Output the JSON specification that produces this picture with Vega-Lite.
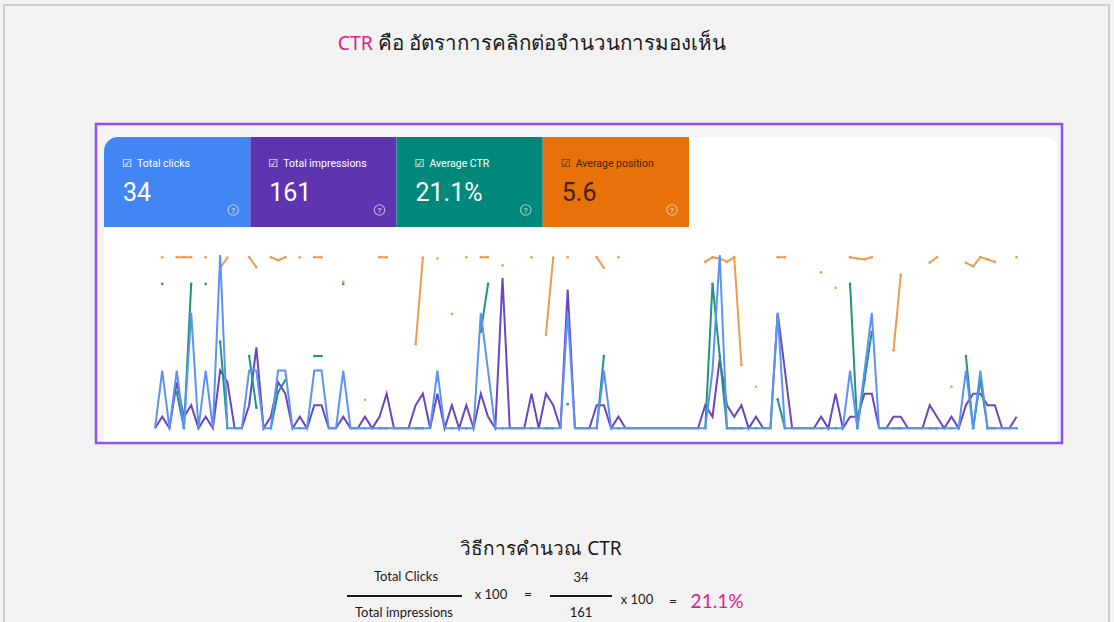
{
  "$schema": "https://vega.github.io/schema/vega-lite/v6.json",
  "width": 1114,
  "height": 622,
  "padding": 0,
  "autosize": {"type": "none"},
  "background": "#f2f2f2",
  "config": {"view": {"stroke": null}},
  "datasets": {
    "gsc": [
      {"day": 1, "clicks": 0, "impressions": 0, "ctr": null, "position": null},
      {"day": 2, "clicks": 1, "impressions": 1, "ctr": 100, "position": 1},
      {"day": 3, "clicks": 0, "impressions": 0, "ctr": null, "position": null},
      {"day": 4, "clicks": 1, "impressions": 4, "ctr": 25, "position": 1},
      {"day": 5, "clicks": 0, "impressions": 1, "ctr": 0, "position": 1},
      {"day": 6, "clicks": 2, "impressions": 2, "ctr": 100, "position": 1},
      {"day": 7, "clicks": 0, "impressions": 0, "ctr": null, "position": null},
      {"day": 8, "clicks": 1, "impressions": 1, "ctr": 100, "position": 1},
      {"day": 9, "clicks": 0, "impressions": 0, "ctr": null, "position": null},
      {"day": 10, "clicks": 3, "impressions": 5, "ctr": 60, "position": 6.0},
      {"day": 11, "clicks": 0, "impressions": 4, "ctr": 0, "position": 1.2},
      {"day": 12, "clicks": 0, "impressions": 0, "ctr": null, "position": null},
      {"day": 13, "clicks": 0, "impressions": 0, "ctr": null, "position": null},
      {"day": 14, "clicks": 1, "impressions": 2, "ctr": 50, "position": 1},
      {"day": 15, "clicks": 1, "impressions": 7, "ctr": 14.3, "position": 5.6},
      {"day": 16, "clicks": 0, "impressions": 0, "ctr": null, "position": null},
      {"day": 17, "clicks": 0, "impressions": 1, "ctr": 0, "position": 1},
      {"day": 18, "clicks": 1, "impressions": 4, "ctr": 25, "position": 2.4},
      {"day": 19, "clicks": 1, "impressions": 3, "ctr": 33.3, "position": 1},
      {"day": 20, "clicks": 0, "impressions": 0, "ctr": null, "position": null},
      {"day": 21, "clicks": 0, "impressions": 1, "ctr": 0, "position": 1},
      {"day": 22, "clicks": 0, "impressions": 0, "ctr": null, "position": null},
      {"day": 23, "clicks": 1, "impressions": 2, "ctr": 50, "position": 1},
      {"day": 24, "clicks": 1, "impressions": 2, "ctr": 50, "position": 1},
      {"day": 25, "clicks": 0, "impressions": 0, "ctr": null, "position": null},
      {"day": 26, "clicks": 0, "impressions": 0, "ctr": null, "position": null},
      {"day": 27, "clicks": 1, "impressions": 1, "ctr": 100, "position": 12.4},
      {"day": 28, "clicks": 0, "impressions": 0, "ctr": null, "position": null},
      {"day": 29, "clicks": 0, "impressions": 0, "ctr": null, "position": null},
      {"day": 30, "clicks": 0, "impressions": 1, "ctr": 0, "position": 66.8},
      {"day": 31, "clicks": 0, "impressions": 0, "ctr": null, "position": null},
      {"day": 32, "clicks": 0, "impressions": 1, "ctr": 0, "position": 1},
      {"day": 33, "clicks": 0, "impressions": 3, "ctr": 0, "position": 1},
      {"day": 34, "clicks": 0, "impressions": 0, "ctr": null, "position": null},
      {"day": 35, "clicks": 0, "impressions": 0, "ctr": null, "position": null},
      {"day": 36, "clicks": 0, "impressions": 0, "ctr": null, "position": null},
      {"day": 37, "clicks": 0, "impressions": 2, "ctr": 0, "position": 41.2},
      {"day": 38, "clicks": 0, "impressions": 3, "ctr": 0, "position": 1.2},
      {"day": 39, "clicks": 0, "impressions": 0, "ctr": null, "position": null},
      {"day": 40, "clicks": 1, "impressions": 3, "ctr": 33.3, "position": 1.6},
      {"day": 41, "clicks": 0, "impressions": 0, "ctr": null, "position": null},
      {"day": 42, "clicks": 0, "impressions": 2, "ctr": 0, "position": 27.2},
      {"day": 43, "clicks": 0, "impressions": 0, "ctr": null, "position": null},
      {"day": 44, "clicks": 0, "impressions": 2, "ctr": 0, "position": 1},
      {"day": 45, "clicks": 0, "impressions": 0, "ctr": null, "position": null},
      {"day": 46, "clicks": 2, "impressions": 3, "ctr": 66.7, "position": 1},
      {"day": 47, "clicks": 1, "impressions": 1, "ctr": 100, "position": 1},
      {"day": 48, "clicks": 0, "impressions": 0, "ctr": null, "position": null},
      {"day": 49, "clicks": 0, "impressions": 13, "ctr": 0, "position": 4.8},
      {"day": 50, "clicks": 0, "impressions": 0, "ctr": null, "position": null},
      {"day": 51, "clicks": 0, "impressions": 0, "ctr": null, "position": null},
      {"day": 52, "clicks": 0, "impressions": 0, "ctr": null, "position": null},
      {"day": 53, "clicks": 0, "impressions": 3, "ctr": 0, "position": 1},
      {"day": 54, "clicks": 0, "impressions": 0, "ctr": null, "position": null},
      {"day": 55, "clicks": 0, "impressions": 3, "ctr": 0, "position": 36.8},
      {"day": 56, "clicks": 0, "impressions": 2, "ctr": 0, "position": 1.2},
      {"day": 57, "clicks": 0, "impressions": 0, "ctr": null, "position": null},
      {"day": 58, "clicks": 2, "impressions": 12, "ctr": 16.7, "position": 1},
      {"day": 59, "clicks": 0, "impressions": 0, "ctr": null, "position": null},
      {"day": 60, "clicks": 0, "impressions": 0, "ctr": null, "position": null},
      {"day": 61, "clicks": 0, "impressions": 0, "ctr": null, "position": null},
      {"day": 62, "clicks": 0, "impressions": 2, "ctr": 0, "position": 1},
      {"day": 63, "clicks": 1, "impressions": 2, "ctr": 50, "position": 6.0},
      {"day": 64, "clicks": 0, "impressions": 0, "ctr": null, "position": null},
      {"day": 65, "clicks": 0, "impressions": 1, "ctr": 0, "position": 1},
      {"day": 66, "clicks": 0, "impressions": 0, "ctr": null, "position": null},
      {"day": 67, "clicks": 0, "impressions": 0, "ctr": null, "position": null},
      {"day": 68, "clicks": 0, "impressions": 0, "ctr": null, "position": null},
      {"day": 69, "clicks": 0, "impressions": 0, "ctr": null, "position": null},
      {"day": 70, "clicks": 0, "impressions": 0, "ctr": null, "position": null},
      {"day": 71, "clicks": 0, "impressions": 0, "ctr": null, "position": null},
      {"day": 72, "clicks": 0, "impressions": 0, "ctr": null, "position": null},
      {"day": 73, "clicks": 0, "impressions": 0, "ctr": null, "position": null},
      {"day": 74, "clicks": 0, "impressions": 0, "ctr": null, "position": null},
      {"day": 75, "clicks": 0, "impressions": 0, "ctr": null, "position": null},
      {"day": 76, "clicks": 0, "impressions": 0, "ctr": null, "position": null},
      {"day": 77, "clicks": 0, "impressions": 2, "ctr": 0, "position": 3.2},
      {"day": 78, "clicks": 1, "impressions": 1, "ctr": 100, "position": 1},
      {"day": 79, "clicks": 3, "impressions": 6, "ctr": 50, "position": 1.6},
      {"day": 80, "clicks": 0, "impressions": 2, "ctr": 0, "position": 3.2},
      {"day": 81, "clicks": 0, "impressions": 1, "ctr": 0, "position": 1},
      {"day": 82, "clicks": 0, "impressions": 2, "ctr": 0, "position": 50.8},
      {"day": 83, "clicks": 0, "impressions": 0, "ctr": null, "position": null},
      {"day": 84, "clicks": 0, "impressions": 1, "ctr": 0, "position": 60.8},
      {"day": 85, "clicks": 0, "impressions": 0, "ctr": null, "position": null},
      {"day": 86, "clicks": 0, "impressions": 0, "ctr": null, "position": null},
      {"day": 87, "clicks": 2, "impressions": 10, "ctr": 20, "position": 1},
      {"day": 88, "clicks": 0, "impressions": 5, "ctr": 0, "position": 1},
      {"day": 89, "clicks": 0, "impressions": 0, "ctr": null, "position": null},
      {"day": 90, "clicks": 0, "impressions": 0, "ctr": null, "position": null},
      {"day": 91, "clicks": 0, "impressions": 0, "ctr": null, "position": null},
      {"day": 92, "clicks": 0, "impressions": 0, "ctr": null, "position": null},
      {"day": 93, "clicks": 0, "impressions": 1, "ctr": 0, "position": 8.0},
      {"day": 94, "clicks": 0, "impressions": 0, "ctr": null, "position": null},
      {"day": 95, "clicks": 0, "impressions": 3, "ctr": 0, "position": 15.2},
      {"day": 96, "clicks": 0, "impressions": 0, "ctr": null, "position": null},
      {"day": 97, "clicks": 1, "impressions": 1, "ctr": 100, "position": 1},
      {"day": 98, "clicks": 0, "impressions": 1, "ctr": 0, "position": 1.6},
      {"day": 99, "clicks": 1, "impressions": 3, "ctr": 33.3, "position": 2.0},
      {"day": 100, "clicks": 2, "impressions": 3, "ctr": 66.7, "position": 1},
      {"day": 101, "clicks": 0, "impressions": 0, "ctr": null, "position": null},
      {"day": 102, "clicks": 0, "impressions": 0, "ctr": null, "position": null},
      {"day": 103, "clicks": 0, "impressions": 1, "ctr": 0, "position": 44},
      {"day": 104, "clicks": 0, "impressions": 1, "ctr": 0, "position": 9.2},
      {"day": 105, "clicks": 0, "impressions": 0, "ctr": null, "position": null},
      {"day": 106, "clicks": 0, "impressions": 0, "ctr": null, "position": null},
      {"day": 107, "clicks": 0, "impressions": 0, "ctr": null, "position": null},
      {"day": 108, "clicks": 0, "impressions": 2, "ctr": 0, "position": 3.6},
      {"day": 109, "clicks": 0, "impressions": 1, "ctr": 0, "position": 1},
      {"day": 110, "clicks": 0, "impressions": 0, "ctr": null, "position": null},
      {"day": 111, "clicks": 0, "impressions": 1, "ctr": 0, "position": 60.8},
      {"day": 112, "clicks": 0, "impressions": 0, "ctr": null, "position": null},
      {"day": 113, "clicks": 1, "impressions": 2, "ctr": 50, "position": 3.6},
      {"day": 114, "clicks": 0, "impressions": 3, "ctr": 0, "position": 5.2},
      {"day": 115, "clicks": 1, "impressions": 3, "ctr": 33.3, "position": 1},
      {"day": 116, "clicks": 0, "impressions": 2, "ctr": 0, "position": 2},
      {"day": 117, "clicks": 0, "impressions": 2, "ctr": 0, "position": 3.2},
      {"day": 118, "clicks": 0, "impressions": 0, "ctr": null, "position": null},
      {"day": 119, "clicks": 0, "impressions": 0, "ctr": null, "position": null},
      {"day": 120, "clicks": 0, "impressions": 1, "ctr": 0, "position": 1}
    ],
    "tiles": [
      {"metric": "Total clicks", "value": "34"},
      {"metric": "Total impressions", "value": "161"},
      {"metric": "Average CTR", "value": "21.1%"},
      {"metric": "Average position", "value": "5.6"}
    ]
  },
  "layer": [
    {
      "data": {"values": [{"element": "page frame"}]},
      "mark": {"type": "rect", "fill": "transparent", "stroke": "#cdcdcd", "strokeWidth": 2},
      "encoding": {
        "x": {"datum": 4, "type": "quantitative", "scale": {"domain": [0, 1114], "range": [0, 1114], "nice": false, "zero": false}, "axis": null},
        "x2": {"datum": 1109},
        "y": {"datum": 5, "type": "quantitative", "scale": {"domain": [0, 622], "range": [0, 622], "nice": false, "zero": false}, "axis": null},
        "y2": {"datum": 680}
      }
    },
    {
      "data": {"values": [{"element": "screenshot frame"}]},
      "mark": {"type": "rect", "fill": "#f4f4f7", "stroke": "#8f52f2", "strokeWidth": 2.5},
      "encoding": {
        "x": {"datum": 96, "type": "quantitative", "scale": {"domain": [0, 1114], "range": [0, 1114], "nice": false, "zero": false}, "axis": null},
        "x2": {"datum": 1062},
        "y": {"datum": 124, "type": "quantitative", "scale": {"domain": [0, 622], "range": [0, 622], "nice": false, "zero": false}, "axis": null},
        "y2": {"datum": 443}
      }
    },
    {
      "data": {"values": [{"element": "report card"}]},
      "mark": {"type": "rect", "fill": "#ffffff", "cornerRadiusTopLeft": 14, "cornerRadiusTopRight": 10},
      "encoding": {
        "x": {"datum": 104, "type": "quantitative", "scale": {"domain": [0, 1114], "range": [0, 1114], "nice": false, "zero": false}, "axis": null},
        "x2": {"datum": 1057},
        "y": {"datum": 137, "type": "quantitative", "scale": {"domain": [0, 622], "range": [0, 622], "nice": false, "zero": false}, "axis": null},
        "y2": {"datum": 441.5}
      }
    },
    {
      "data": {"name": "tiles"},
      "encoding": {
        "x": {"field": "metric", "type": "nominal", "sort": null, "scale": {"domain": ["Total clicks", "Total impressions", "Average CTR", "Average position"], "range": [104, 689], "paddingInner": 0, "paddingOuter": 0}, "axis": null}
      },
      "layer": [
        {
          "transform": [{"filter": "datum.metric !== 'Total clicks'"}],
          "mark": {"type": "rect"},
          "encoding": {
            "y": {"datum": 137, "type": "quantitative", "scale": {"domain": [0, 622], "range": [0, 622], "nice": false, "zero": false}, "axis": null},
            "y2": {"datum": 227},
            "fill": {"field": "metric", "type": "nominal", "scale": {"domain": ["Total clicks", "Total impressions", "Average CTR", "Average position"], "range": ["#4285f4", "#5e35b1", "#00897b", "#e8710a"]}, "legend": null}
          }
        },
        {
          "transform": [{"filter": "datum.metric === 'Total clicks'"}],
          "mark": {"type": "rect", "cornerRadiusTopLeft": 14},
          "encoding": {
            "y": {"datum": 137, "type": "quantitative", "scale": {"domain": [0, 622], "range": [0, 622], "nice": false, "zero": false}, "axis": null},
            "y2": {"datum": 227},
            "fill": {"field": "metric", "type": "nominal", "scale": {"domain": ["Total clicks", "Total impressions", "Average CTR", "Average position"], "range": ["#4285f4", "#5e35b1", "#00897b", "#e8710a"]}, "legend": null}
          }
        },
        {
          "mark": {"type": "text", "text": "☑", "font": "DejaVu Sans", "fontSize": 11, "align": "center", "baseline": "alphabetic", "dx": 23},
          "encoding": {
            "x": {"field": "metric", "type": "nominal", "bandPosition": 0},
            "y": {"datum": 167, "type": "quantitative", "scale": {"domain": [0, 622], "range": [0, 622], "nice": false, "zero": false}, "axis": null},
            "color": {"field": "metric", "type": "nominal", "scale": {"domain": ["Total clicks", "Total impressions", "Average CTR", "Average position"], "range": ["#ffffff", "#ffffff", "#ffffff", "#3d2608"]}, "legend": null}
          }
        },
        {
          "mark": {"type": "text", "font": "Roboto", "fontSize": 10.5, "align": "left", "baseline": "alphabetic", "dx": 33},
          "encoding": {
            "x": {"field": "metric", "type": "nominal", "bandPosition": 0},
            "y": {"datum": 166.5, "type": "quantitative", "scale": {"domain": [0, 622], "range": [0, 622], "nice": false, "zero": false}, "axis": null},
            "text": {"field": "metric"},
            "color": {"field": "metric", "type": "nominal", "scale": {"domain": ["Total clicks", "Total impressions", "Average CTR", "Average position"], "range": ["#ffffff", "#ffffff", "#ffffff", "#3d2608"]}, "legend": null}
          }
        },
        {
          "mark": {"type": "text", "font": "Roboto", "fontSize": 25, "align": "left", "baseline": "alphabetic", "dx": 19},
          "encoding": {
            "x": {"field": "metric", "type": "nominal", "bandPosition": 0},
            "y": {"datum": 201, "type": "quantitative", "scale": {"domain": [0, 622], "range": [0, 622], "nice": false, "zero": false}, "axis": null},
            "text": {"field": "value"},
            "color": {"field": "metric", "type": "nominal", "scale": {"domain": ["Total clicks", "Total impressions", "Average CTR", "Average position"], "range": ["#ffffff", "#ffffff", "#ffffff", "#3d2608"]}, "legend": null}
          }
        },
        {
          "mark": {"type": "point", "shape": "circle", "filled": false, "size": 110, "strokeWidth": 1.1, "opacity": 0.6, "xOffset": -17},
          "encoding": {
            "x": {"field": "metric", "type": "nominal", "bandPosition": 1},
            "y": {"datum": 210, "type": "quantitative", "scale": {"domain": [0, 622], "range": [0, 622], "nice": false, "zero": false}, "axis": null},
            "color": {"field": "metric", "type": "nominal", "scale": {"domain": ["Total clicks", "Total impressions", "Average CTR", "Average position"], "range": ["#ffffff", "#ffffff", "#ffffff", "#ffffff"]}, "legend": null}
          }
        },
        {
          "mark": {"type": "text", "text": "?", "font": "Roboto", "fontSize": 8, "fontWeight": "bold", "align": "center", "baseline": "middle", "dx": -17, "opacity": 0.6},
          "encoding": {
            "x": {"field": "metric", "type": "nominal", "bandPosition": 1},
            "y": {"datum": 210.5, "type": "quantitative", "scale": {"domain": [0, 622], "range": [0, 622], "nice": false, "zero": false}, "axis": null},
            "color": {"field": "metric", "type": "nominal", "scale": {"domain": ["Total clicks", "Total impressions", "Average CTR", "Average position"], "range": ["#ffffff", "#ffffff", "#ffffff", "#ffffff"]}, "legend": null}
          }
        }
      ],
      "resolve": {"scale": {"color": "independent"}}
    },
    {
      "data": {"name": "gsc"},
      "encoding": {
        "x": {"field": "day", "type": "quantitative", "scale": {"domain": [1, 120], "range": [155, 1016.6], "nice": false, "zero": false}, "axis": null}
      },
      "layer": [
        {
          "mark": {"type": "line", "color": "#6a46c2", "strokeWidth": 2, "invalid": "break-paths-show-domains"},
          "encoding": {"y": {"field": "impressions", "type": "quantitative", "scale": {"domain": [0, 15], "range": [428.3, 255], "nice": false}, "axis": null}}
        },
        {
          "mark": {"type": "line", "color": "#1f9580", "strokeWidth": 2, "invalid": "break-paths-show-domains", "point": {"filled": true, "size": 7, "color": "#1f9580"}},
          "encoding": {"y": {"field": "ctr", "type": "quantitative", "scale": {"domain": [0, 120], "range": [428.3, 255], "nice": false}, "axis": null}}
        },
        {
          "mark": {"type": "line", "color": "#ef9a4c", "strokeWidth": 2, "invalid": "break-paths-show-domains", "point": {"filled": true, "size": 7, "color": "#ef9a4c"}},
          "encoding": {"y": {"field": "position", "type": "quantitative", "scale": {"domain": [0, 80], "range": [255, 428.3], "nice": false}, "axis": null}}
        },
        {
          "mark": {"type": "line", "color": "#5b93f5", "strokeWidth": 2, "invalid": "break-paths-show-domains"},
          "encoding": {"y": {"field": "clicks", "type": "quantitative", "scale": {"domain": [0, 3], "range": [428.3, 255], "nice": false}, "axis": null}}
        }
      ],
      "resolve": {"scale": {"y": "independent"}}
    },
    {
      "data": {"values": [{"text": "CTR"}]},
      "mark": {"type": "text", "font": "Noto Sans", "fontSize": 19.5, "align": "right", "baseline": "alphabetic", "color": "#e0218a"},
      "encoding": {
        "text": {"field": "text"},
        "x": {"datum": 373, "type": "quantitative", "scale": {"domain": [0, 1114], "range": [0, 1114], "nice": false, "zero": false}, "axis": null},
        "y": {"datum": 50, "type": "quantitative", "scale": {"domain": [0, 622], "range": [0, 622], "nice": false, "zero": false}, "axis": null}
      }
    },
    {
      "data": {"values": [{"text": "คือ อัตราการคลิกต่อจำนวนการมองเห็น"}]},
      "mark": {"type": "text", "font": "Noto Sans", "fontSize": 20.5, "align": "left", "baseline": "alphabetic", "color": "#1a1a1a"},
      "encoding": {
        "text": {"field": "text"},
        "x": {"datum": 378, "type": "quantitative", "scale": {"domain": [0, 1114], "range": [0, 1114], "nice": false, "zero": false}, "axis": null},
        "y": {"datum": 50, "type": "quantitative", "scale": {"domain": [0, 622], "range": [0, 622], "nice": false, "zero": false}, "axis": null}
      }
    },
    {
      "data": {"values": [{"text": "วิธีการคำนวณ CTR"}]},
      "mark": {"type": "text", "font": "Noto Sans", "fontSize": 19, "align": "center", "baseline": "alphabetic", "color": "#1a1a1a"},
      "encoding": {
        "text": {"field": "text"},
        "x": {"datum": 541, "type": "quantitative", "scale": {"domain": [0, 1114], "range": [0, 1114], "nice": false, "zero": false}, "axis": null},
        "y": {"datum": 555, "type": "quantitative", "scale": {"domain": [0, 622], "range": [0, 622], "nice": false, "zero": false}, "axis": null}
      }
    },
    {
      "data": {"values": [{"text": "Total Clicks"}]},
      "mark": {"type": "text", "font": "Lato", "fontSize": 13, "align": "center", "baseline": "alphabetic", "color": "#1a1a1a"},
      "encoding": {
        "text": {"field": "text"},
        "x": {"datum": 406, "type": "quantitative", "scale": {"domain": [0, 1114], "range": [0, 1114], "nice": false, "zero": false}, "axis": null},
        "y": {"datum": 581, "type": "quantitative", "scale": {"domain": [0, 622], "range": [0, 622], "nice": false, "zero": false}, "axis": null}
      }
    },
    {
      "data": {"values": [{"text": "Total impressions"}]},
      "mark": {"type": "text", "font": "Lato", "fontSize": 13, "align": "center", "baseline": "alphabetic", "color": "#1a1a1a"},
      "encoding": {
        "text": {"field": "text"},
        "x": {"datum": 404, "type": "quantitative", "scale": {"domain": [0, 1114], "range": [0, 1114], "nice": false, "zero": false}, "axis": null},
        "y": {"datum": 617, "type": "quantitative", "scale": {"domain": [0, 622], "range": [0, 622], "nice": false, "zero": false}, "axis": null}
      }
    },
    {
      "data": {"values": [{"text": "34"}]},
      "mark": {"type": "text", "font": "Lato", "fontSize": 13, "align": "center", "baseline": "alphabetic", "color": "#1a1a1a"},
      "encoding": {
        "text": {"field": "text"},
        "x": {"datum": 581, "type": "quantitative", "scale": {"domain": [0, 1114], "range": [0, 1114], "nice": false, "zero": false}, "axis": null},
        "y": {"datum": 582, "type": "quantitative", "scale": {"domain": [0, 622], "range": [0, 622], "nice": false, "zero": false}, "axis": null}
      }
    },
    {
      "data": {"values": [{"text": "161"}]},
      "mark": {"type": "text", "font": "Lato", "fontSize": 13, "align": "center", "baseline": "alphabetic", "color": "#1a1a1a"},
      "encoding": {
        "text": {"field": "text"},
        "x": {"datum": 581, "type": "quantitative", "scale": {"domain": [0, 1114], "range": [0, 1114], "nice": false, "zero": false}, "axis": null},
        "y": {"datum": 617, "type": "quantitative", "scale": {"domain": [0, 622], "range": [0, 622], "nice": false, "zero": false}, "axis": null}
      }
    },
    {
      "data": {"values": [{"text": "x 100"}]},
      "mark": {"type": "text", "font": "Lato", "fontSize": 13, "align": "center", "baseline": "alphabetic", "color": "#1a1a1a"},
      "encoding": {
        "text": {"field": "text"},
        "x": {"datum": 491, "type": "quantitative", "scale": {"domain": [0, 1114], "range": [0, 1114], "nice": false, "zero": false}, "axis": null},
        "y": {"datum": 599, "type": "quantitative", "scale": {"domain": [0, 622], "range": [0, 622], "nice": false, "zero": false}, "axis": null}
      }
    },
    {
      "data": {"values": [{"text": "="}]},
      "mark": {"type": "text", "font": "Lato", "fontSize": 14, "align": "center", "baseline": "alphabetic", "color": "#1a1a1a"},
      "encoding": {
        "text": {"field": "text"},
        "x": {"datum": 528, "type": "quantitative", "scale": {"domain": [0, 1114], "range": [0, 1114], "nice": false, "zero": false}, "axis": null},
        "y": {"datum": 599, "type": "quantitative", "scale": {"domain": [0, 622], "range": [0, 622], "nice": false, "zero": false}, "axis": null}
      }
    },
    {
      "data": {"values": [{"text": "x 100"}]},
      "mark": {"type": "text", "font": "Lato", "fontSize": 13, "align": "center", "baseline": "alphabetic", "color": "#1a1a1a"},
      "encoding": {
        "text": {"field": "text"},
        "x": {"datum": 637, "type": "quantitative", "scale": {"domain": [0, 1114], "range": [0, 1114], "nice": false, "zero": false}, "axis": null},
        "y": {"datum": 604, "type": "quantitative", "scale": {"domain": [0, 622], "range": [0, 622], "nice": false, "zero": false}, "axis": null}
      }
    },
    {
      "data": {"values": [{"text": "="}]},
      "mark": {"type": "text", "font": "Lato", "fontSize": 14, "align": "center", "baseline": "alphabetic", "color": "#1a1a1a"},
      "encoding": {
        "text": {"field": "text"},
        "x": {"datum": 673, "type": "quantitative", "scale": {"domain": [0, 1114], "range": [0, 1114], "nice": false, "zero": false}, "axis": null},
        "y": {"datum": 606, "type": "quantitative", "scale": {"domain": [0, 622], "range": [0, 622], "nice": false, "zero": false}, "axis": null}
      }
    },
    {
      "data": {"values": [{"text": "21.1%"}]},
      "mark": {"type": "text", "font": "Lato", "fontSize": 19, "align": "center", "baseline": "alphabetic", "color": "#e0218a"},
      "encoding": {
        "text": {"field": "text"},
        "x": {"datum": 717, "type": "quantitative", "scale": {"domain": [0, 1114], "range": [0, 1114], "nice": false, "zero": false}, "axis": null},
        "y": {"datum": 608, "type": "quantitative", "scale": {"domain": [0, 622], "range": [0, 622], "nice": false, "zero": false}, "axis": null}
      }
    },
    {
      "data": {"values": [{"line": "fraction bar, clicks over impressions"}]},
      "mark": {"type": "rule", "color": "#1a1a1a", "strokeWidth": 2},
      "encoding": {
        "x": {"datum": 347, "type": "quantitative", "scale": {"domain": [0, 1114], "range": [0, 1114], "nice": false, "zero": false}, "axis": null},
        "x2": {"datum": 462},
        "y": {"datum": 596, "type": "quantitative", "scale": {"domain": [0, 622], "range": [0, 622], "nice": false, "zero": false}, "axis": null}
      }
    },
    {
      "data": {"values": [{"line": "fraction bar, 34 over 161"}]},
      "mark": {"type": "rule", "color": "#1a1a1a", "strokeWidth": 2},
      "encoding": {
        "x": {"datum": 550, "type": "quantitative", "scale": {"domain": [0, 1114], "range": [0, 1114], "nice": false, "zero": false}, "axis": null},
        "x2": {"datum": 612},
        "y": {"datum": 596, "type": "quantitative", "scale": {"domain": [0, 622], "range": [0, 622], "nice": false, "zero": false}, "axis": null}
      }
    }
  ],
  "resolve": {"scale": {"x": "independent", "y": "independent", "color": "independent", "fill": "independent"}}
}
